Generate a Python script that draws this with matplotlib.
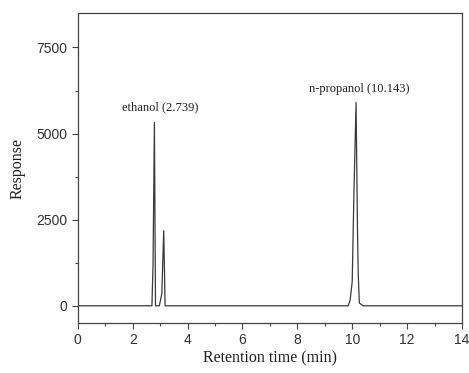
import matplotlib.pyplot as plt
from matplotlib.ticker import MultipleLocator

# chromatogram trace
time = [0.0, 2.70, 2.74, 2.79, 2.83, 2.90, 2.97, 3.06, 3.13, 3.18, 3.22,
        9.85, 9.92, 10.00, 10.06, 10.14, 10.19, 10.22, 10.26, 10.40, 14.0]
response = [0, 0, 1200, 5320, 0, 0, 0, 350, 2180, 0, 0,
            0, 150, 700, 3200, 5900, 2300, 900, 80, 0, 0]

peak_labels = ["ethanol (2.739)", "n-propanol (10.143)"]
label_x = [3.0, 10.25]
label_y = [5600, 6120]

serif = "Liberation Serif"
sans = "Liberation Sans"

fig = plt.figure(figsize=(4.69, 3.73), dpi=100)
ax = fig.add_axes([0.166, 0.134, 0.819, 0.831])

ax.plot(time, response, color="#3a3a3a", lw=0.9)

for txt, x, y in zip(peak_labels, label_x, label_y):
    ax.text(x, y, txt, ha="center", va="bottom", family=serif, fontsize=9, color="#222222")

ax.set_xlim(0, 14)
ax.set_ylim(-500, 8500)
ax.xaxis.set_major_locator(MultipleLocator(2))
ax.xaxis.set_minor_locator(MultipleLocator(1))
ax.set_yticks([0, 2500, 5000, 7500])
ax.yaxis.set_minor_locator(MultipleLocator(1250))

for lab in ax.get_xticklabels() + ax.get_yticklabels():
    lab.set_family(sans)
    lab.set_fontsize(10)
    lab.set_color("#333333")

ax.tick_params(which="major", length=4, width=0.8, color="#444444")
ax.tick_params(which="minor", length=2, width=0.8, color="#444444")
for s in ax.spines.values():
    s.set_color("#444444")
    s.set_linewidth(0.9)

ax.set_xlabel("Retention time (min)", family=serif, fontsize=11.5, color="#222222", labelpad=2)
ax.set_ylabel("Response", family=serif, fontsize=11.5, color="#222222", labelpad=8)

fig.savefig("out.png", dpi=100)
